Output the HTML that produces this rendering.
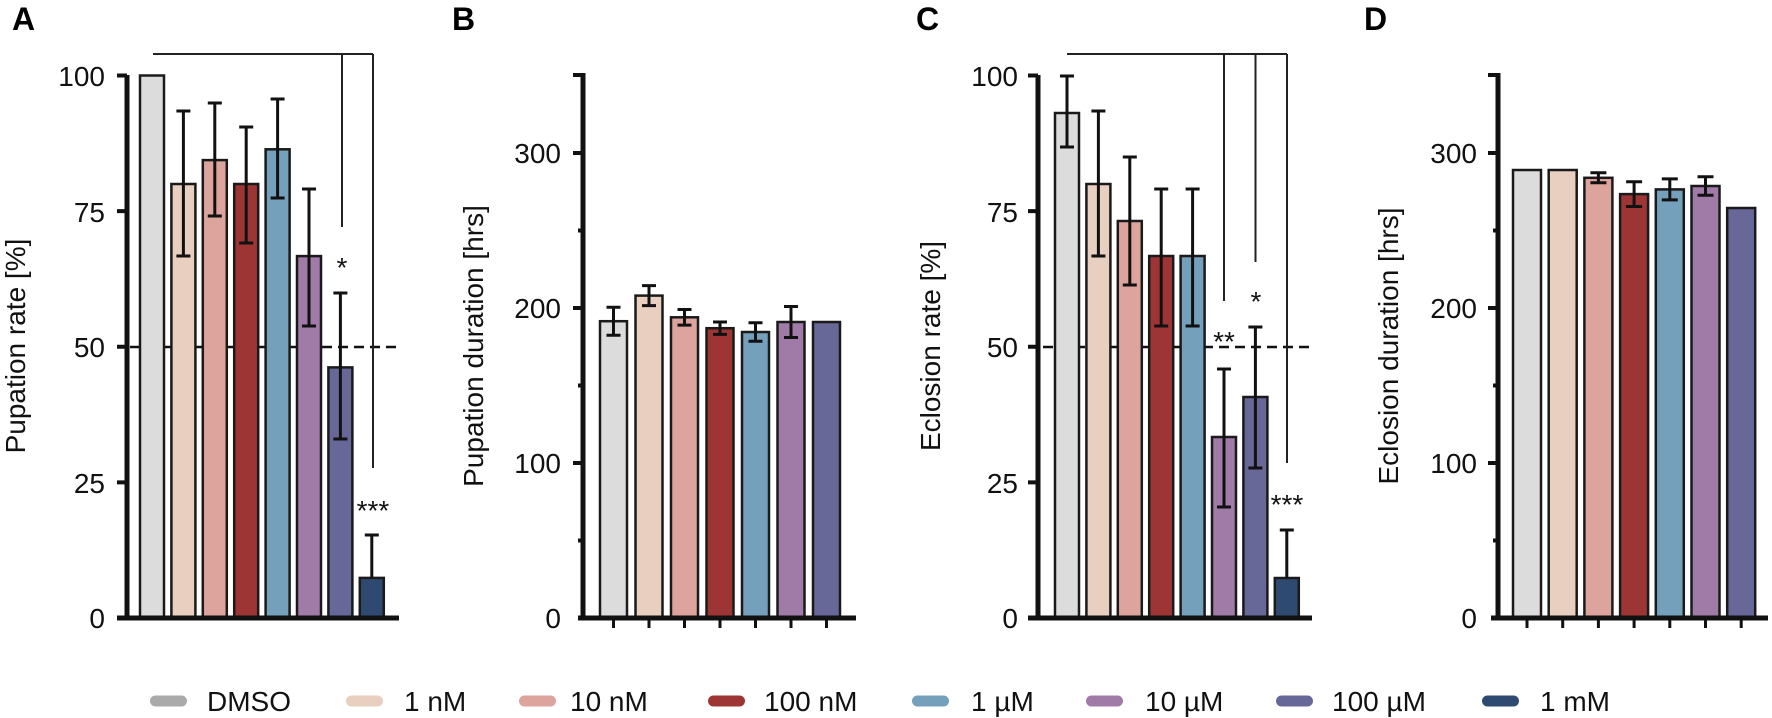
<!DOCTYPE html>
<html><head><meta charset="utf-8"><style>
html,body{margin:0;padding:0;background:#fff;}
svg{display:block;font-family:"Liberation Sans",Arial,sans-serif;}
</style></head><body>
<svg width="1772" height="718" viewBox="0 0 1772 718" xmlns="http://www.w3.org/2000/svg">
<!-- panel labels -->
<g font-weight="bold" font-size="32" fill="#000">
<text x="12" y="30">A</text><text x="452" y="30">B</text><text x="916" y="30">C</text><text x="1364" y="30">D</text>
</g>
<!-- axis titles -->
<g font-size="28" fill="#111" text-anchor="middle">
<text transform="translate(25,346) rotate(-90)">Pupation rate [%]</text>
<text transform="translate(483,346) rotate(-90)">Pupation duration [hrs]</text>
<text transform="translate(940,346) rotate(-90)">Eclosion rate [%]</text>
<text transform="translate(1398,346) rotate(-90)">Eclosion duration [hrs]</text>
</g>
<!-- tick labels -->
<g font-size="28" fill="#111" text-anchor="end">
<text x="105" y="86">100</text><text x="105" y="222">75</text><text x="105" y="357">50</text><text x="105" y="493">25</text><text x="105" y="628">0</text>
<text x="561" y="163">300</text><text x="561" y="318">200</text><text x="561" y="473">100</text><text x="561" y="628">0</text>
<text x="1018" y="86">100</text><text x="1018" y="222">75</text><text x="1018" y="357">50</text><text x="1018" y="493">25</text><text x="1018" y="628">0</text>
<text x="1477" y="163">300</text><text x="1477" y="318">200</text><text x="1477" y="473">100</text><text x="1477" y="628">0</text>
</g>
<!-- dashed 50% lines -->
<g stroke="#111" stroke-width="2.5" stroke-dasharray="10 6">
<line x1="130" y1="347" x2="401" y2="347"/>
<line x1="1043" y1="347" x2="1315" y2="347"/>
</g>
<!-- bars -->
<g stroke="#1a1a1a" stroke-width="2.5">
<!-- A -->
<rect x="140" y="75.5" width="24" height="542.5" fill="#dcdcdc"/>
<rect x="171.4" y="184" width="24" height="434" fill="#e9cfc0"/>
<rect x="202.8" y="160.1" width="24" height="457.9" fill="#dca49c"/>
<rect x="234.2" y="184" width="24" height="434" fill="#9e3535"/>
<rect x="265.6" y="149.3" width="24" height="468.7" fill="#74a0bb"/>
<rect x="297" y="256.1" width="24" height="361.9" fill="#a07ba8"/>
<rect x="328.4" y="367.4" width="24" height="250.6" fill="#676898"/>
<rect x="359.8" y="577.9" width="24" height="40.1" fill="#2f4a70"/>
<!-- B -->
<rect x="600" y="321.2" width="27" height="296.8" fill="#dcdcdc"/>
<rect x="635.5" y="295.6" width="27" height="322.4" fill="#e9cfc0"/>
<rect x="671" y="317.3" width="27" height="300.7" fill="#dca49c"/>
<rect x="706.5" y="328.2" width="27" height="289.8" fill="#9e3535"/>
<rect x="742" y="332" width="27" height="286" fill="#74a0bb"/>
<rect x="777.5" y="322" width="27" height="296" fill="#a07ba8"/>
<rect x="813" y="322" width="27" height="296" fill="#676898"/>
<!-- C -->
<rect x="1055" y="113" width="24" height="505" fill="#dcdcdc"/>
<rect x="1086.4" y="184" width="24" height="434" fill="#e9cfc0"/>
<rect x="1117.8" y="221" width="24" height="397" fill="#dca49c"/>
<rect x="1149.2" y="256" width="24" height="362" fill="#9e3535"/>
<rect x="1180.6" y="256" width="24" height="362" fill="#74a0bb"/>
<rect x="1212" y="437" width="24" height="181" fill="#a07ba8"/>
<rect x="1243.4" y="397" width="24" height="221" fill="#676898"/>
<rect x="1274.8" y="578" width="24" height="40" fill="#2f4a70"/>
<!-- D -->
<rect x="1513" y="170" width="28" height="448" fill="#dcdcdc"/>
<rect x="1548.7" y="170" width="28" height="448" fill="#e9cfc0"/>
<rect x="1584.4" y="177.8" width="28" height="440.2" fill="#dca49c"/>
<rect x="1620.1" y="194.1" width="28" height="423.9" fill="#9e3535"/>
<rect x="1655.8" y="189.4" width="28" height="428.6" fill="#74a0bb"/>
<rect x="1691.5" y="186" width="28" height="432" fill="#a07ba8"/>
<rect x="1727.2" y="208" width="28" height="410" fill="#676898"/>
</g>
<!-- error bars -->
<g stroke="#111" stroke-width="3" fill="none">
<path d="M183.4 111V256M176.4 111h14M176.4 256h14"/>
<path d="M214.8 103V216M207.8 103h14M207.8 216h14"/>
<path d="M246.2 127V243M239.2 127h14M239.2 243h14"/>
<path d="M277.6 99V198M270.6 99h14M270.6 198h14"/>
<path d="M309 189V326M302 189h14M302 326h14"/>
<path d="M340.4 293V439M333.4 293h14M333.4 439h14"/>
<path d="M371.8 535V578M364.8 535h14"/>
<path d="M613.5 307.2V335.2M606.5 307.2h14M606.5 335.2h14"/>
<path d="M649 285.6V305.6M642 285.6h14M642 305.6h14"/>
<path d="M684.5 309.5V325.1M677.5 309.5h14M677.5 325.1h14"/>
<path d="M720 322V334.4M713 322h14M713 334.4h14"/>
<path d="M755.5 322.7V341.3M748.5 322.7h14M748.5 341.3h14"/>
<path d="M791 306.5V337.5M784 306.5h14M784 337.5h14"/>
<path d="M1067 76V147M1060 76h14M1060 147h14"/>
<path d="M1098.4 111V256M1091.4 111h14M1091.4 256h14"/>
<path d="M1129.8 157V285M1122.8 157h14M1122.8 285h14"/>
<path d="M1161.2 189V326M1154.2 189h14M1154.2 326h14"/>
<path d="M1192.6 189V326M1185.6 189h14M1185.6 326h14"/>
<path d="M1224 369V507M1217 369h14M1217 507h14"/>
<path d="M1255.4 327V468M1248.4 327h14M1248.4 468h14"/>
<path d="M1286.8 530V578M1279.8 530h14"/>
<path d="M1598.4 172.8V182.8M1590.4 172.8h16M1590.4 182.8h16"/>
<path d="M1634.1 181.7V206.5M1626.1 181.7h16M1626.1 206.5h16"/>
<path d="M1669.8 178.9V199.9M1661.8 178.9h16M1661.8 199.9h16"/>
<path d="M1705.5 176.7V195.3M1697.5 176.7h16M1697.5 195.3h16"/>
</g>
<!-- brackets -->
<g stroke="#222" stroke-width="2" fill="none">
<path d="M153 54H373M342 54V227M373 54V468"/>
<path d="M1067 54H1287M1224 54V301M1255.5 54V262M1287 54V463"/>
</g>
<g font-size="28" fill="#111" text-anchor="middle">
<text x="342" y="277">*</text><text x="373" y="520">***</text>
<text x="1224" y="351">**</text><text x="1256" y="311">*</text><text x="1287" y="514">***</text>
</g>
<!-- axes -->
<g stroke="#111" fill="none">
<path stroke-width="5" d="M127 75V618M117 618H399"/>
<path stroke-width="4" d="M117 75.5h10M117 211.1h10M117 346.8h10M117 482.4h10"/>
<path stroke-width="5" d="M583 73V618M578 618H856"/>
<path stroke-width="4" d="M573 75h10M573 153h10M573 308h10M573 463h10M578 230.5h5M578 385.5h5M578 540.5h5"/>
<path stroke-width="3" d="M613.5 618v10M649 618v10M684.5 618v10M720 618v10M755.5 618v10M791 618v10M826.5 618v10"/>
<path stroke-width="5" d="M1038 75V618M1028 618H1312"/>
<path stroke-width="4" d="M1028 75.5h10M1028 211.1h10M1028 346.8h10M1028 482.4h10"/>
<path stroke-width="5" d="M1498 73V618M1491 618H1768"/>
<path stroke-width="4" d="M1488 75h10M1488 153h10M1488 308h10M1488 463h10M1493 230.5h5M1493 385.5h5M1493 540.5h5"/>
<path stroke-width="3" d="M1527 618v10M1562.7 618v10M1598.4 618v10M1634.1 618v10M1669.8 618v10M1705.5 618v10M1741.2 618v10"/>
</g>
<!-- legend -->
<g>
<rect x="150" y="695.5" width="37" height="11" rx="5.5" fill="#aaaaaa"/>
<rect x="346" y="695.5" width="37" height="11" rx="5.5" fill="#e9cfc0"/>
<rect x="519" y="695.5" width="37" height="11" rx="5.5" fill="#dca49c"/>
<rect x="708" y="695.5" width="37" height="11" rx="5.5" fill="#9e3535"/>
<rect x="912" y="695.5" width="37" height="11" rx="5.5" fill="#74a0bb"/>
<rect x="1086" y="695.5" width="37" height="11" rx="5.5" fill="#a07ba8"/>
<rect x="1276" y="695.5" width="37" height="11" rx="5.5" fill="#676898"/>
<rect x="1482" y="695.5" width="37" height="11" rx="5.5" fill="#2f4a70"/>
</g>
<g font-size="28" fill="#111">
<text x="207" y="711">DMSO</text>
<text x="404" y="711">1 nM</text>
<text x="570" y="711">10 nM</text>
<text x="764" y="711">100 nM</text>
<text x="971" y="711">1 µM</text>
<text x="1145" y="711">10 µM</text>
<text x="1332" y="711">100 µM</text>
<text x="1540" y="711">1 mM</text>
</g>
</svg>
</body></html>
